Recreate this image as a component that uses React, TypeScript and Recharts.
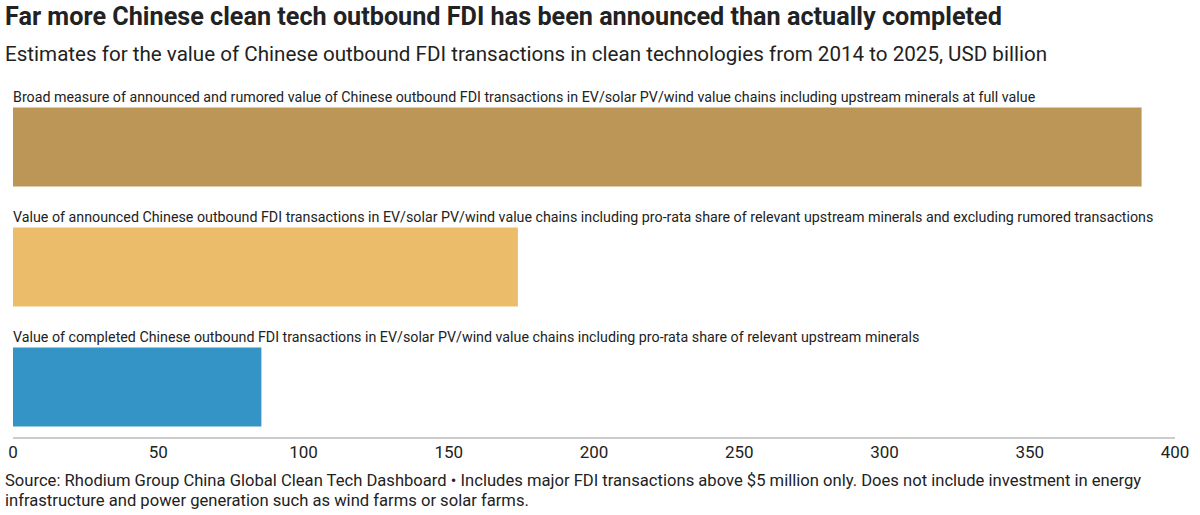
import { BarChart, Bar, XAxis, YAxis, LabelList } from 'recharts';

const measures = [
    'Broad measure of announced and rumored value of Chinese outbound FDI transactions in EV/solar PV/wind value chains including upstream minerals at full value',
    'Value of announced Chinese outbound FDI transactions in EV/solar PV/wind value chains including pro-rata share of relevant upstream minerals and excluding rumored transactions',
    'Value of completed Chinese outbound FDI transactions in EV/solar PV/wind value chains including pro-rata share of relevant upstream minerals',
];
const values = [388.5, 173.8, 85.5];
const barColors = ['#bc9656', '#ebbd6a', '#3594c6'];
const xTicks = [0, 50, 100, 150, 200, 250, 300, 350, 400];

const data = measures.map((label, i) => ({ label, value: values[i], color: barColors[i] }));

const textColor = '#222222';

const BarLabel = (props: any) => {
    const { x, y, value } = props;
    return (
        <text x={x} y={y - 6} fill={textColor} fontSize={14.25} fontFamily="Roboto">
            {value}
        </text>
    );
};

const ColoredBar = (props: any) => {
    const { x, y, width, height, payload } = props;
    return <rect x={x} y={y} width={width} height={height} fill={payload.color} />;
};

export default function App() {
    return (
        <div
            style={{
                position: 'absolute',
                left: 0,
                top: 0,
                width: 1200,
                height: 515,
                background: '#fff',
                fontFamily: 'Roboto, sans-serif',
                color: textColor,
            }}
        >
            <div style={{ position: 'absolute', left: 5, top: 2, fontSize: 25.2, fontWeight: 700, lineHeight: '30px', whiteSpace: 'nowrap' }}>
                Far more Chinese clean tech outbound FDI has been announced than actually completed
            </div>
            <div style={{ position: 'absolute', left: 5, top: 41, fontSize: 20.6, lineHeight: '26px', whiteSpace: 'nowrap' }}>
                Estimates for the value of Chinese outbound FDI transactions in clean technologies from 2014 to 2025, USD billion
            </div>
            <div style={{ position: 'absolute', left: 0, top: 0 }}>
                <BarChart
                    width={1200}
                    height={515}
                    data={data}
                    layout="vertical"
                    margin={{ top: 86.5, right: 25, bottom: 47, left: 13 }}
                >
                    <XAxis
                        type="number"
                        domain={[0, 400]}
                        ticks={xTicks}
                        tickLine={false}
                        axisLine={{ stroke: '#cccccc', strokeWidth: 2 }}
                        tick={{ fill: textColor, fontSize: 17, fontFamily: 'Roboto' }}
                        height={30}
                        interval={0}
                    />
                    <YAxis type="category" dataKey="label" hide padding={{ top: 0, bottom: -8.5 }} />
                    <Bar dataKey="value" barSize={79} isAnimationActive={false} shape={<ColoredBar />}>
                        <LabelList dataKey="label" content={<BarLabel />} />
                    </Bar>
                </BarChart>
            </div>
            <div style={{ position: 'absolute', left: 5, top: 471, fontSize: 16.6, lineHeight: '20px', whiteSpace: 'nowrap' }}>
                Source: Rhodium Group China Global Clean Tech Dashboard • Includes major FDI transactions above $5 million only. Does not include investment in energy
                <br />
                infrastructure and power generation such as wind farms or solar farms.
            </div>
        </div>
    );
}
